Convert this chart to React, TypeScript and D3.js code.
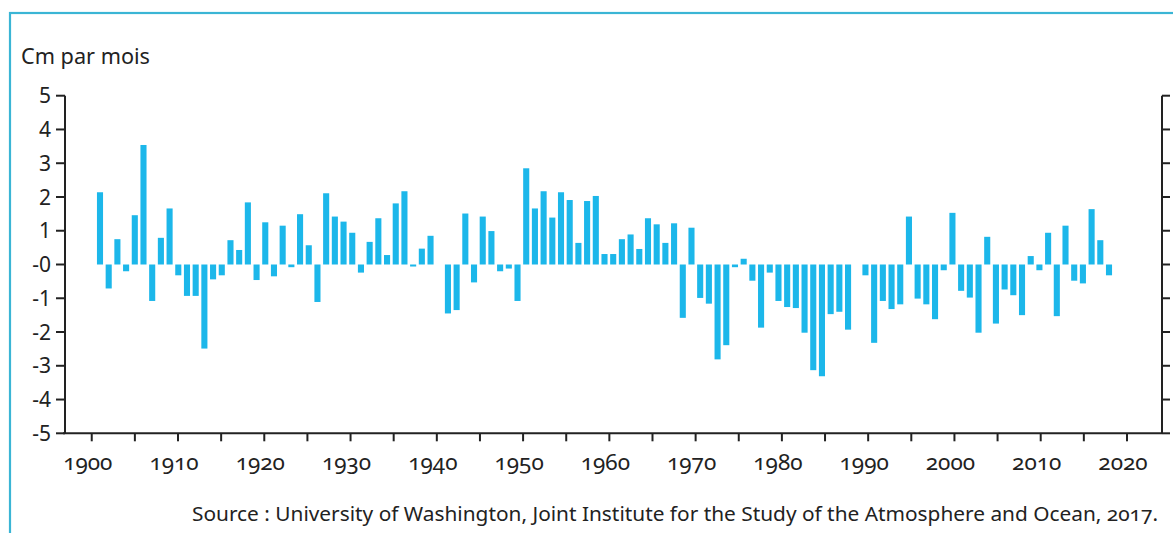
import React from "react";
import * as d3 from "d3";

const firstYear = 1901;
const values: number[] = [
  2.14, -0.71, 0.75, -0.2, 1.46, 3.54, -1.08, 0.79, 1.66, -0.32,
  -0.93, -0.93, -2.49, -0.44, -0.32, 0.72, 0.43, 1.84, -0.46, 1.25,
  -0.35, 1.15, -0.08, 1.49, 0.57, -1.11, 2.11, 1.42, 1.27, 0.94,
  -0.24, 0.67, 1.37, 0.28, 1.81, 2.17, -0.06, 0.47, 0.85, 0,
  -1.45, -1.35, 1.51, -0.53, 1.42, 0.99, -0.2, -0.12, -1.08, 2.85,
  1.66, 2.17, 1.39, 2.14, 1.91, 0.64, 1.88, 2.03, 0.31, 0.31,
  0.75, 0.89, 0.46, 1.37, 1.19, 0.64, 1.22, -1.58, 1.09, -0.99,
  -1.16, -2.81, -2.39, -0.08, 0.17, -0.48, -1.87, -0.24, -1.08, -1.26,
  -1.29, -2.02, -3.13, -3.31, -1.47, -1.4, -1.93, 0, -0.32, -2.32,
  -1.08, -1.32, -1.18, 1.42, -1.01, -1.18, -1.62, -0.17, 1.53, -0.78,
  -0.98, -2.02, 0.82, -1.75, -0.74, -0.91, -1.5, 0.25, -0.17, 0.94,
  -1.53, 1.15, -0.48, -0.56, 1.64, 0.72, -0.32,
];
const years: number[] = values.map((_, i) => firstYear + i);

const yTickValues = [5, 4, 3, 2, 1, 0, -1, -2, -3, -4, -5];
const yTickLabels = ["5", "4", "3", "2", "1", "-0", "-1", "-2", "-3", "-4", "-5"];
const xMinorTicks = [1900, 1905, 1910, 1915, 1920, 1925, 1930, 1935, 1940, 1945, 1950, 1955, 1960, 1965, 1970, 1975, 1980, 1985, 1990, 1995, 2000, 2005, 2010, 2015, 2020];
const xLabelYears = [1900, 1910, 1920, 1930, 1940, 1950, 1960, 1970, 1980, 1990, 2000, 2010, 2020];

const title = "Cm par mois";
const source = "Source : University of Washington, Joint Institute for the Study of the Atmosphere and Ocean, 2017.";

const W = 1173;
const H = 533;
const left = 65;
const right = 1162;
const top = 95.7;
const bottom = 433.3;
const axisColor = "#222";
const barColor = "#1cb7ea";
const frameColor = "#3ab5d5";
const font = "'Noto Sans', 'Open Sans', sans-serif";

export default function App() {
  const y = d3.scaleLinear().domain([-5, 5]).range([bottom, top]);
  const xAxis = d3.scaleLinear().domain([1896.9, 2024.06]).range([left, right]);
  const xBar = d3
    .scaleBand<number>()
    .domain(years)
    .range([95.65, 1113.35])
    .paddingInner(0.3)
    .paddingOuter(0.15);

  return (
    <svg
      width={W}
      height={H}
      style={{ position: "absolute", left: 0, top: 0, background: "#fff" }}
      fontFamily={font}
    >
      <rect x={10} y={13} width={1250} height={600} fill="none" stroke={frameColor} strokeWidth={2.2} />

      <text x={21} y={64} fontSize={21.5} fill="#222" textLength={129} lengthAdjust="spacingAndGlyphs">{title}</text>

      {/* bars */}
      {years.map((yr, i) => {
        const v = values[i];
        if (v === 0) return null;
        const y0 = y(0);
        const y1 = y(v);
        return (
          <rect
            key={yr}
            x={xBar(yr)}
            width={xBar.bandwidth()}
            y={Math.min(y0, y1)}
            height={Math.abs(y1 - y0)}
            fill={barColor}
          />
        );
      })}

      {/* left axis */}
      <line x1={left} x2={left} y1={top} y2={bottom} stroke={axisColor} strokeWidth={2} />
      {yTickValues.map((t, i) => (
        <g key={"yl" + t}>
          <line x1={left - 9} x2={left} y1={y(t)} y2={y(t)} stroke={axisColor} strokeWidth={2} />
          <text x={51} y={y(t)} dy="0.36em" textAnchor="end" fontSize={21} fill="#222">
            {yTickLabels[i]}
          </text>
        </g>
      ))}

      {/* right axis */}
      <line x1={right} x2={right} y1={top} y2={bottom} stroke={axisColor} strokeWidth={2} />
      {yTickValues.map((t) => (
        <line key={"yr" + t} x1={right} x2={right + 8} y1={y(t)} y2={y(t)} stroke={axisColor} strokeWidth={2} />
      ))}

      {/* bottom axis */}
      <line x1={left - 2} x2={right} y1={bottom} y2={bottom} stroke={axisColor} strokeWidth={2} />
      {xMinorTicks.map((t) => (
        <line key={"xt" + t} x1={xAxis(t)} x2={xAxis(t)} y1={bottom} y2={bottom + 8} stroke={axisColor} strokeWidth={2} />
      ))}
      {xLabelYears.map((t) => (
        <text
          key={"xl" + t}
          x={xAxis(t) - 4}
          y={470}
          textAnchor="middle"
          fontSize={22.5}
          fill="#222"
          style={{ fontVariantNumeric: "oldstyle-nums" }}
        >
          {t}
        </text>
      ))}

      <text
        x={1158}
        y={521}
        textAnchor="end"
        fontSize={20}
        fill="#222"
        textLength={966}
        lengthAdjust="spacingAndGlyphs"
        style={{ fontVariantNumeric: "oldstyle-nums" }}
      >
        {source}
      </text>
    </svg>
  );
}
